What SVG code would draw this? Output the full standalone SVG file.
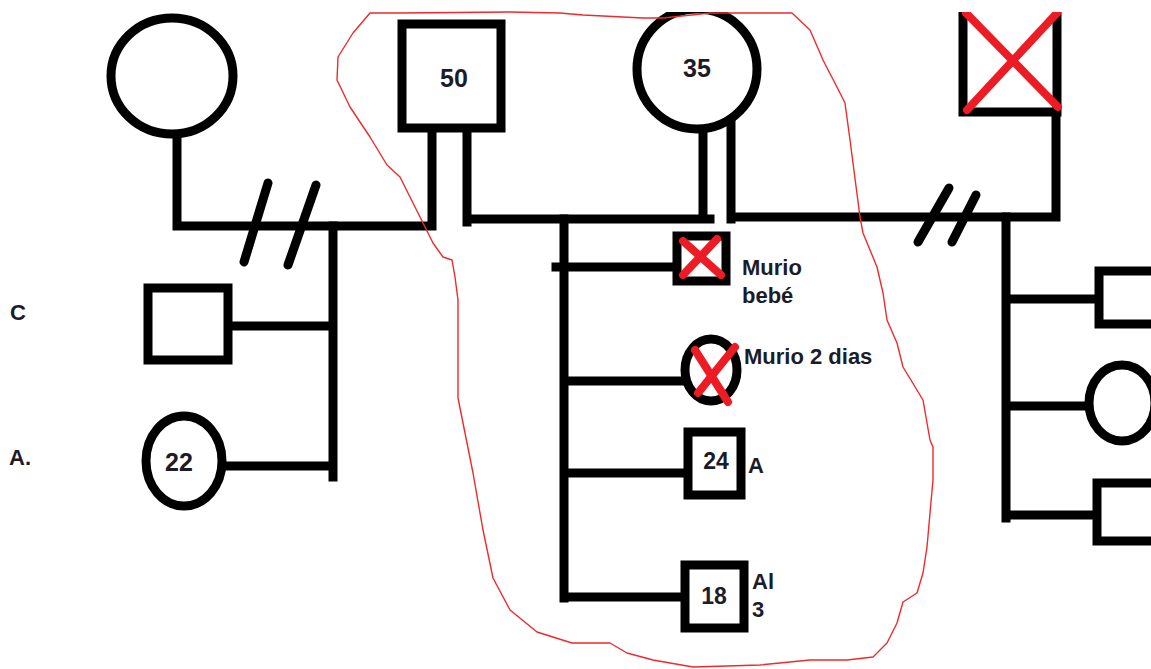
<svg xmlns="http://www.w3.org/2000/svg" width="1151" height="669" viewBox="0 0 1151 669">
<style>
.ln{stroke:#000;stroke-width:9;fill:none;stroke-linecap:square}
.sl{stroke:#000;stroke-width:9;fill:none;stroke-linecap:round}
.sh{stroke:#000;stroke-width:9;fill:#fff}
.x{stroke:#ed1c24;stroke-width:8;stroke-linecap:round;fill:none}
.t{font-family:"Liberation Sans",Arial,sans-serif;font-weight:bold;fill:#1c1c28}
.n{font-size:25px;text-anchor:middle}
.s{font-size:22px}
</style>
<defs>
<clipPath id="top"><rect x="0" y="12" width="1151" height="657"/></clipPath>
</defs>
<rect width="1151" height="669" fill="#fff"/>
<g id="connectors">
<path class="ln" d="M177 136V226M177 226H432V132"/>
<path class="ln" d="M333 226V477M229 326H333M222 466H333"/>
<path class="sl" d="M244 262L268 183M288 265L316 185"/>
<path class="ln" d="M467 132V222M467 219H710M703 132V219"/>
<path class="ln" d="M731 124V219M731 217H1056V116"/>
<path class="sl" d="M918 242L949 188M952 242L976 195"/>
<path class="ln" d="M1006 217V518M1006 299H1095M1006 406H1085M1006 515H1093"/>
<path class="ln" d="M564 219V598M556 267H673M564 381H681M564 473H683M564 597H680"/>
</g>
<g id="n-left-mother"><ellipse class="sh" cx="172" cy="76" rx="61" ry="58"/></g>
<g id="n-50"><rect class="sh" x="402" y="24" width="99" height="104"/><text class="t n" x="454" y="87">50</text></g>
<g id="n-35" clip-path="url(#top)"><ellipse class="sh" cx="697" cy="69" rx="60" ry="60"/><text class="t n" x="697" y="77">35</text></g>
<g id="n-dead-father" clip-path="url(#top)"><rect class="sh" x="963" y="4" width="94" height="108"/><path class="x" d="M966 13L1058 107M1057 13L967 110"/></g>
<g id="n-c"><rect class="sh" x="148" y="288" width="80" height="72"/><text class="t s" x="10" y="320">C</text></g>
<g id="n-22"><ellipse class="sh" cx="184" cy="461" rx="38" ry="45"/><text class="t n" x="179" y="471">22</text><text class="t s" x="9" y="465">A.</text></g>
<g id="n-bebe"><rect class="sh" x="677" y="236" width="49" height="45"/><path class="x" d="M683 241L721 275M717 239L683 275"/><text class="t s" x="742" y="275">Murio</text><text class="t s" x="742" y="303">bebé</text></g>
<g id="n-2dias"><ellipse class="sh" cx="711" cy="370" rx="26" ry="31"/><path class="x" d="M695 350L728 402M735 347L698 393"/><text class="t s" x="744" y="364">Murio 2 dias</text></g>
<g id="n-24"><rect class="sh" x="688" y="432" width="53" height="63"/><text class="t n" x="716" y="469" style="font-size:23px">24</text><text class="t s" x="748" y="473">A</text></g>
<g id="n-18"><rect class="sh" x="685" y="565" width="59" height="63"/><text class="t n" x="714" y="604" style="font-size:23px">18</text><text class="t s" x="752" y="589">Al</text><text class="t s" x="752" y="617">3</text></g>
<g id="n-r1"><rect class="sh" x="1099" y="271" width="60" height="53"/></g>
<g id="n-r2"><ellipse class="sh" cx="1122" cy="403" rx="33" ry="38"/></g>
<g id="n-r3"><rect class="sh" x="1097" y="483" width="62" height="58"/></g>
<path id="outline" fill="none" stroke="#ee2a2a" stroke-width="1.4" stroke-linejoin="round" d="M370 13L353 33L338 57L337 80L350 107L370 137L387 165L400 177L410 197L423 223L433 243L443 257L452 260L455 277L458 300L458 398L473 473L483 530L493 578L510 610L537 632L572 643L610 643L627 653L653 660L693 667L760 665L810 660L847 660L873 657L887 643L897 623L903 602L917 593L923 573L927 547L930 513L933 480L933 447L930 440L923 400L903 367L897 343L887 320L883 293L877 267L863 233L860 217L850 140L845 103L840 93L823 60L810 30L792 13L710 13L663 18L643 18L583 15L560 13L510 12L400 13Z"/>
</svg>
